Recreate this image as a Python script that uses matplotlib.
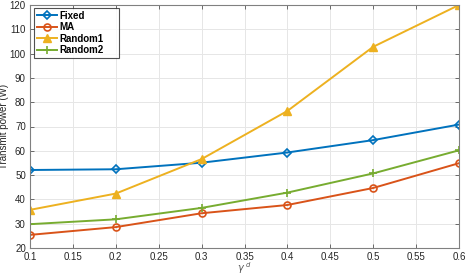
import matplotlib
matplotlib.use("Agg")
import matplotlib.pyplot as plt

gamma = [0.1, 0.2, 0.3, 0.4, 0.5, 0.6]
fixed = [52.1, 52.4, 55.1, 59.3, 64.4, 70.8]
ma = [25.4, 28.6, 34.3, 37.7, 44.7, 54.9]
random1 = [35.7, 42.4, 56.6, 76.4, 102.8, 120.0]
random2 = [29.8, 31.8, 36.5, 42.8, 50.7, 60.2]

xticks = [0.1, 0.15, 0.2, 0.25, 0.3, 0.35, 0.4, 0.45, 0.5, 0.55, 0.6]
xticklabels = ["0.1", "0.15", "0.2", "0.25", "0.3", "0.35", "0.4", "0.45", "0.5", "0.55", "0.6"]
yticks = [20, 30, 40, 50, 60, 70, 80, 90, 100, 110, 120]

plt.rcParams['font.family'] = ['Liberation Sans', 'DejaVu Sans']

fig = plt.figure(figsize=(4.65, 2.78), dpi=100)
ax = fig.add_axes([30/465, 1 - 248/278, (459-30)/465, (248-5)/278])

ax.plot(gamma, fixed, color='#0072BD', marker='D', markersize=4, markerfacecolor='none',
        markeredgewidth=1.2, linewidth=1.4, label='Fixed')
ax.plot(gamma, ma, color='#D95319', marker='o', markersize=5, markerfacecolor='none',
        markeredgewidth=1.2, linewidth=1.4, label='MA')
ax.plot(gamma, random1, color='#EDB120', marker='^', markersize=6,
        markeredgewidth=1.0, linewidth=1.4, label='Random1')
ax.plot(gamma, random2, color='#77AC30', marker='+', markersize=6,
        markeredgewidth=1.2, linewidth=1.4, label='Random2')

ax.set_xlim(0.1, 0.6)
ax.set_ylim(20, 120)
ax.set_xticks(xticks)
ax.set_xticklabels(xticklabels)
ax.set_yticks(yticks)
ax.grid(True, color='#e6e6e6', linewidth=0.7)
ax.set_axisbelow(True)
ax.tick_params(direction='in', top=True, right=True, labelsize=7, length=3,
               color='#555555', labelcolor='#262626', width=0.6, pad=3)
for s in ax.spines.values():
    s.set_color('#808080')
    s.set_linewidth(0.8)

ax.set_xlabel(r'$\gamma^{\ d}$', fontsize=7, color='#555555')
ax.xaxis.set_label_coords(0.5, (248 - 272.5) / 243)
ax.xaxis.label.set_va('baseline')
ax.set_ylabel('Transmit power (W)', fontsize=7, color='#262626')
ax.yaxis.set_label_coords((9 - 30) / 429, 0.5)

leg = ax.legend(loc='upper left', fontsize=7, frameon=True, fancybox=False,
                edgecolor='#262626', borderpad=0.3, labelspacing=0.15,
                handlelength=2.1, handletextpad=0.2,
                bbox_to_anchor=(4/429, 0.988, 85/429, 0.0), mode='expand',
                borderaxespad=0.0)
leg.get_frame().set_linewidth(0.8)
for t in leg.get_texts():
    t.set_fontweight('bold')

fig.savefig('out.png', dpi=100)
